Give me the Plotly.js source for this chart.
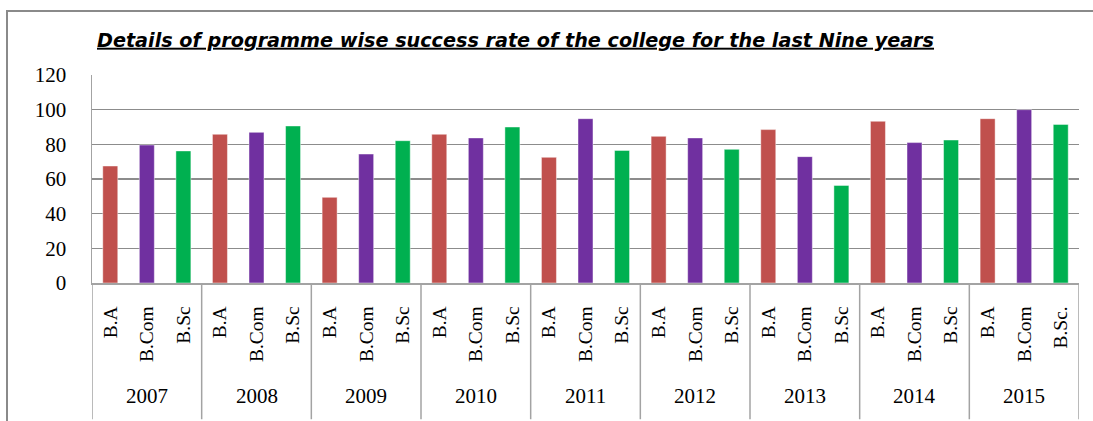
<!DOCTYPE html>
<html>
<head>
<meta charset="utf-8">
<script src="https://cdn.plot.ly/plotly-3.0.1.min.js"></script>
<style>
  html, body { margin: 0; padding: 0; background: #ffffff; }
  #wrap { position: relative; width: 1093px; height: 421px; overflow: hidden; }
  #frame { position: absolute; left: 6px; top: 10px; width: 1100px; height: 430px;
           border: 2px solid #8a8a8a; box-sizing: border-box; pointer-events: none; }
  #chart { position: absolute; left: 0; top: 0; width: 1093px; height: 421px; }
</style>
</head>
<body>
<div id="wrap">
  <div id="chart"></div>
  <div id="frame"></div>
</div>
<script>
// ---- data ----
const years = ['2007', '2008', '2009', '2010', '2011', '2012', '2013', '2014', '2015'];
const programmeTicks = [
  'B.A', 'B.Com', 'B.Sc',
  'B.A', 'B.Com', 'B.Sc',
  'B.A', 'B.Com', 'B.Sc',
  'B.A', 'B.Com', 'B.Sc',
  'B.A', 'B.Com', 'B.Sc',
  'B.A', 'B.Com', 'B.Sc',
  'B.A', 'B.Com', 'B.Sc',
  'B.A', 'B.Com', 'B.Sc',
  'B.A', 'B.Com', 'B.Sc.'
];
const baRate   = [67.5, 85.8, 49.4, 85.8, 72.5, 84.6, 88.5, 93.3, 94.8];
const bcomRate = [79.6, 86.9, 74.4, 83.7, 94.8, 83.7, 72.9, 81.0, 100.0];
const bscRate  = [76.2, 90.6, 82.1, 90.0, 76.5, 77.1, 56.3, 82.5, 91.5];
const yTicks = [0, 20, 40, 60, 80, 100, 120];
const chartTitle = 'Details of programme wise success rate of the college for the last Nine years';

// ---- styles ----
const programmeColors = ['#C0504D', '#7030A0', '#00B050'];
const serif = 'Liberation Serif, Times New Roman, serif';
const axisGray = '#a3a3a3';
const gridGray = '#8c8c8c';

// ---- build ----
const perYear = 3;
const xIdx = [], yVals = [], colors = [];
const series = [baRate, bcomRate, bscRate];
years.forEach((yr, i) => {
  for (let p = 0; p < perYear; p++) {
    xIdx.push(i * perYear + p);
    yVals.push(series[p][i]);
    colors.push(programmeColors[p]);
  }
});

const trace = {
  type: 'bar',
  x: xIdx,
  y: yVals,
  width: 0.41,
  marker: { color: colors, line: { color: 'rgba(255,255,255,0.45)', width: 1 } },
  text: xIdx.map(i => years[Math.floor(i / perYear)] + ' ' + programmeTicks[i]),
  textposition: 'none',
  hoverinfo: 'text+y'
};

// group dividers and year labels beneath the category axis
const shapes = [];
for (let k = 0; k <= years.length; k++) {
  shapes.push({
    type: 'line', xref: 'x', yref: 'paper',
    x0: k * perYear - 0.5, x1: k * perYear - 0.5,
    y0: 0, y1: -0.655,
    line: { color: axisGray, width: 1.5 }
  });
}
const annotations = years.map((yr, i) => ({
  text: yr, xref: 'x', yref: 'paper',
  x: i * perYear + (perYear - 1) / 2, y: -0.545,
  xanchor: 'center', yanchor: 'middle', showarrow: false,
  font: { family: serif, size: 21, color: '#000000' }
}));

const layout = {
  width: 1093,
  height: 421,
  margin: { l: 92, r: 14, t: 75, b: 138 },
  paper_bgcolor: 'rgba(0,0,0,0)',
  plot_bgcolor: '#ffffff',
  showlegend: false,
  title: {
    text: chartTitle,
    xref: 'container', yref: 'container',
    x: 97 / 1093, xanchor: 'left',
    y: 1 - 40 / 421, yanchor: 'middle',
    font: { family: 'DejaVu Sans, sans-serif', size: 19.2, color: '#000000',
            weight: 'bold', style: 'italic', lineposition: 'under' }
  },
  xaxis: {
    range: [-0.5, years.length * perYear - 0.5],
    tickvals: xIdx,
    ticktext: programmeTicks,
    showline: true, linecolor: axisGray, linewidth: 1.5,
    showgrid: false, zeroline: false, ticks: '',
    tickangle: -90,
    ticklabelstandoff: 14,
    tickfont: { family: serif, size: 19.5, color: '#000000' },
    fixedrange: true
  },
  yaxis: {
    range: [0, 120],
    tickvals: yTicks,
    showline: true, linecolor: axisGray, linewidth: 1.5,
    showgrid: true, gridcolor: gridGray, gridwidth: 1.2,
    zeroline: false,
    ticks: '',
    ticklabelstandoff: 20,
    tickfont: { family: serif, size: 21, color: '#000000' },
    fixedrange: true
  },
  shapes: shapes,
  annotations: annotations
};

Plotly.newPlot('chart', [trace], layout, { displayModeBar: false, staticPlot: true });
</script>
</body>
</html>
